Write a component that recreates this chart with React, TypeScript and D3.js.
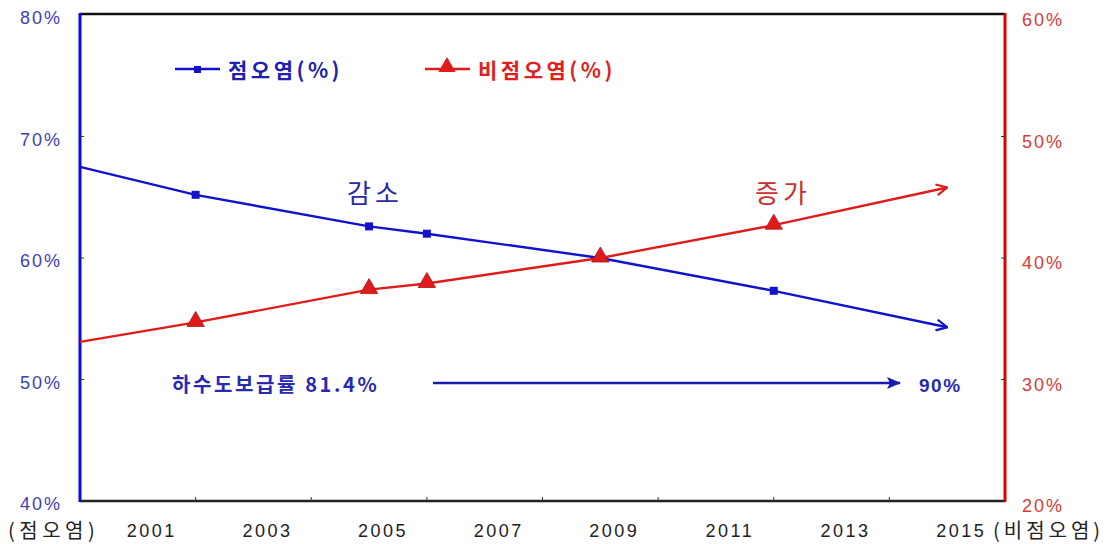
import React from "react";
import * as d3 from "d3";

const years = [2000, 2002, 2005, 2006, 2009, 2012, 2015];
const pointSource = [67.5, 65.2, 62.6, 62.0, 60.0, 57.3, 54.3];
const nonPointSource = [33.1, 34.7, 37.4, 37.9, 40.0, 42.7, 45.8];
const markerIdx = [1, 2, 3, 4, 5];
const xLabelYears = [2001, 2003, 2005, 2007, 2009, 2011, 2013, 2015];
const xTickYears = [2002, 2004, 2006, 2008, 2010, 2012, 2014];
const leftTicks = [40, 50, 60, 70, 80];
const rightTicks = [20, 30, 40, 50, 60];

const W = 1112, H = 544;
const L = 80, R = 1005, T = 15, B = 501;
const FONT = "'Liberation Sans', Arial, 'Noto Sans CJK KR', sans-serif";
const KFONT = "'Noto Sans CJK KR', 'Liberation Sans', sans-serif";

export default function App() {
  const x = d3.scaleLinear().domain([2000, 2016]).range([L, R]);
  const yL = d3.scaleLinear().domain([40, 80]).range([B, T]);
  const yR = d3.scaleLinear().domain([20, 60]).range([B, T]);

  const blueLine = d3.line<number>().x((_, i) => x(years[i])).y((d) => yL(d));
  const redLine = d3.line<number>().x((_, i) => x(years[i])).y((d) => yR(d));
  const tri = d3.symbol().type(d3.symbolTriangle).size(130)();

  const blue = "#1212cc";
  const red = "#e01b1b";

  return (
    <svg width={W} height={H} style={{ position: "absolute", left: 0, top: 0, background: "#fff" }}>
      <defs>
        <marker id="openBlue" viewBox="0 0 12 12" refX="11" refY="6" markerWidth="13" markerHeight="13" markerUnits="userSpaceOnUse" orient="auto">
          <path d="M1,1 L11,6 L1,11" fill="none" stroke={blue} strokeWidth={2} />
        </marker>
        <marker id="openRed" viewBox="0 0 12 12" refX="11" refY="6" markerWidth="13" markerHeight="13" markerUnits="userSpaceOnUse" orient="auto">
          <path d="M1,1 L11,6 L1,11" fill="none" stroke={red} strokeWidth={2} />
        </marker>
        <marker id="solidBlue" viewBox="0 0 14 12" refX="13" refY="6" markerWidth="14" markerHeight="12" markerUnits="userSpaceOnUse" orient="auto">
          <path d="M0,0 L14,6 L0,12 L3,6 Z" fill="#1a1ab0" />
        </marker>
      </defs>

      {/* frame */}
      <line x1={L} x2={R} y1={T - 1} y2={T - 1} stroke="#111" strokeWidth={2.5} />
      <line x1={L} x2={R} y1={B} y2={B} stroke="#222" strokeWidth={2.5} />
      <line x1={L} x2={L} y1={T - 2} y2={B + 1} stroke="#0a0ad8" strokeWidth={3} />
      <line x1={R} x2={R} y1={T - 2} y2={B + 1} stroke="#e00000" strokeWidth={3} />

      {/* ticks */}
      {xTickYears.map((yr) => (
        <line key={"xt" + yr} x1={x(yr)} x2={x(yr)} y1={B} y2={B - 4} stroke="#333" strokeWidth={1} />
      ))}
      {leftTicks.slice(1, -1).map((v) => (
        <line key={"lt" + v} x1={L} x2={L + 4} y1={yL(v)} y2={yL(v)} stroke="#333" strokeWidth={1} />
      ))}
      {rightTicks.slice(1, -1).map((v) => (
        <line key={"rt" + v} x1={R} x2={R - 4} y1={yR(v)} y2={yR(v)} stroke="#333" strokeWidth={1} />
      ))}

      {/* axis labels */}
      {leftTicks.map((v) => (
        <text key={"ll" + v} x={62} y={yL(v) + 9} textAnchor="end" fontFamily={FONT} fontSize={18} letterSpacing={2} fill="#4040b8">
          {v}%
        </text>
      ))}
      {rightTicks.map((v) => (
        <text key={"rl" + v} x={1022} y={yR(v) + 11} textAnchor="start" fontFamily={FONT} fontSize={18} letterSpacing={2} fill="#d83a3a">
          {v}%
        </text>
      ))}
      {xLabelYears.map((yr) => (
        <text key={"xl" + yr} x={x(yr) + 14} y={537} textAnchor="middle" fontFamily={FONT} fontSize={18} letterSpacing={2.5} fill="#222">
          {yr}
        </text>
      ))}
      <text x={8} y={538} fontFamily={KFONT} fontSize={20} letterSpacing={4.5} fill="#222">(점오염)</text>
      <text x={993} y={538} fontFamily={KFONT} fontSize={20} letterSpacing={4} fill="#222">(비점오염)</text>

      {/* legend */}
      <line x1={175} x2={220} y1={69} y2={69} stroke={blue} strokeWidth={2.5} />
      <rect x={194} y={66} width={7} height={7} fill={blue} />
      <text x={228} y={78} fontFamily={KFONT} fontSize={21} fontWeight="bold" letterSpacing={3.5} fill="#2020b0">점오염(%)</text>
      <line x1={425} x2={470} y1={69} y2={69} stroke={red} strokeWidth={2.5} />
      <path d={tri!} transform="translate(447,67)" fill={red} />
      <text x={478} y={78} fontFamily={KFONT} fontSize={21} fontWeight="bold" letterSpacing={3.5} fill="#e02020">비점오염(%)</text>

      {/* series */}
      <path d={blueLine(pointSource)!} fill="none" stroke={blue} strokeWidth={2.4} markerEnd="url(#openBlue)" />
      <path d={redLine(nonPointSource)!} fill="none" stroke={red} strokeWidth={2.4} markerEnd="url(#openRed)" />
      {markerIdx.map((i) => (
        <rect key={"bm" + i} x={x(years[i]) - 4} y={yL(pointSource[i]) - 4} width={8} height={8} fill={blue} />
      ))}
      {markerIdx.map((i) => (
        <path key={"rm" + i} d={tri!} transform={`translate(${x(years[i])},${yR(nonPointSource[i]) - 1})`} fill={red} stroke="#b01010" strokeWidth={0.8} />
      ))}

      {/* annotations */}
      <text x={347} y={203} fontFamily={KFONT} fontSize={26} letterSpacing={4} fill="#2a2aa8">감소</text>
      <text x={755} y={203} fontFamily={KFONT} fontSize={26} letterSpacing={4} fill="#c83030">증가</text>
      <text x={172} y={392} fontFamily={KFONT} fontSize={20} fontWeight="bold" letterSpacing={2.6} fill="#2a2ab0">하수도보급률 81.4%</text>
      <line x1={433} x2={900} y1={383} y2={383} stroke="#1a1ab0" strokeWidth={2.4} markerEnd="url(#solidBlue)" />
      <text x={919} y={392} fontFamily={FONT} fontSize={19} fontWeight="bold" letterSpacing={1.5} fill="#2a2ab0">90%</text>
    </svg>
  );
}
